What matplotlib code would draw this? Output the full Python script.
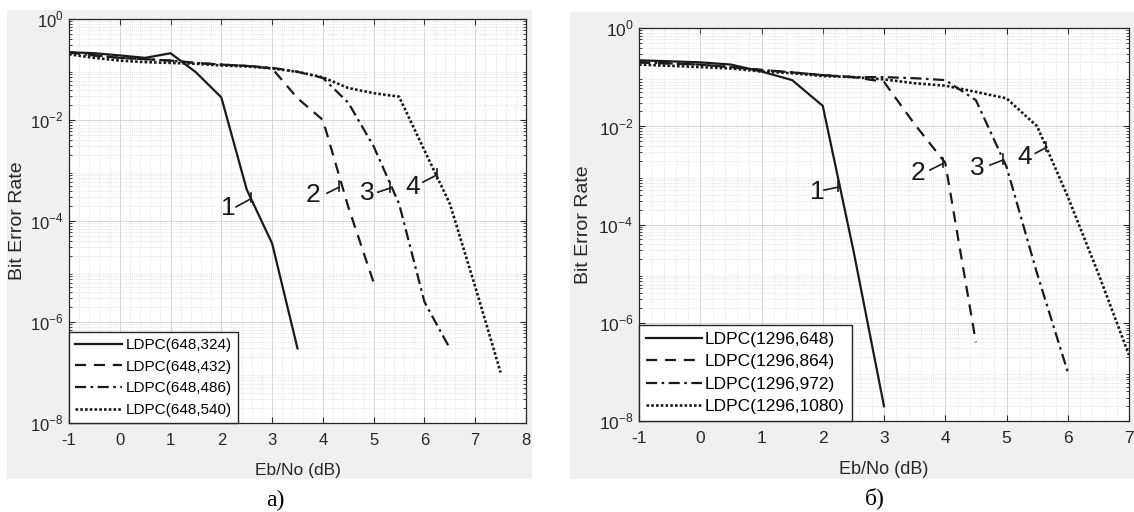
import numpy as np
import matplotlib
matplotlib.use("Agg")
import matplotlib.pyplot as plt
from matplotlib.patches import Rectangle
from matplotlib.ticker import LogLocator, MultipleLocator, NullFormatter

plt.rcParams['font.family'] = ['Liberation Sans', 'DejaVu Sans']
plt.rcParams['axes.unicode_minus'] = False
plt.rcParams['mathtext.fontset'] = 'custom'
plt.rcParams['mathtext.rm'] = 'Liberation Sans'

# ---- panel a) : LDPC(648, k)
a_x1 = [-1, -0.5, 0, 0.5, 1, 1.5, 2, 2.5, 3, 3.5]
a_y1 = [0.22, 0.21, 0.19, 0.17, 0.21, 0.088, 0.028, 4.2e-4, 3.6e-5, 3e-7]
a_x2 = [-1, -0.5, 0, 0.5, 1, 1.5, 2, 2.5, 3, 3.5, 4, 4.5, 5]
a_y2 = [0.22, 0.19, 0.17, 0.16, 0.15, 0.135, 0.125, 0.118, 0.105, 0.027, 0.01, 1.9e-4, 6e-6]
a_x3 = [-1, -0.5, 0, 0.5, 1, 1.5, 2, 2.5, 3, 3.5, 4, 4.5, 5, 5.5, 6, 6.5]
a_y3 = [0.22, 0.19, 0.17, 0.16, 0.15, 0.135, 0.125, 0.118, 0.108, 0.09, 0.068, 0.022, 3e-3, 2.2e-4, 2.5e-6, 3e-7]
a_x4 = [-1, -0.5, 0, 0.5, 1, 1.5, 2, 2.5, 3, 3.5, 4, 4.5, 5, 5.5, 6, 6.5, 7, 7.5]
a_y4 = [0.2, 0.17, 0.15, 0.14, 0.135, 0.13, 0.12, 0.115, 0.105, 0.09, 0.07, 0.043, 0.034, 0.029,
        2.5e-3, 2.2e-4, 5e-6, 1e-7]
a_labels = ["LDPC(648,324)", "LDPC(648,432)", "LDPC(648,486)", "LDPC(648,540)"]

# ---- panel б) : LDPC(1296, k)
b_x1 = [-1, -0.5, 0, 0.5, 1, 1.5, 2, 2.5, 3]
b_y1 = [0.22, 0.21, 0.2, 0.18, 0.13, 0.087, 0.026, 3e-5, 2e-8]
b_x2 = [-1, -0.5, 0, 0.5, 1, 1.5, 2, 2.5, 3, 3.5, 4, 4.5]
b_y2 = [0.2, 0.19, 0.18, 0.16, 0.14, 0.125, 0.11, 0.1, 0.08, 0.011, 1.8e-3, 4e-7]
b_x3 = [-1, -0.5, 0, 0.5, 1, 1.5, 2, 2.5, 3, 3.5, 4, 4.5, 5, 5.5, 6]
b_y3 = [0.2, 0.19, 0.18, 0.16, 0.14, 0.125, 0.11, 0.1, 0.1, 0.095, 0.087, 0.034, 1.5e-3, 1e-5, 1e-7]
b_x4 = [-1, -0.5, 0, 0.5, 1, 1.5, 2, 2.5, 3, 3.5, 4, 4.5, 5, 5.5, 6, 6.5, 7]
b_y4 = [0.18, 0.17, 0.16, 0.15, 0.13, 0.12, 0.105, 0.1, 0.09, 0.075, 0.067, 0.05, 0.037, 0.01,
        3.7e-4, 1e-5, 2.2e-7]
b_labels = ["LDPC(1296,648)", "LDPC(1296,864)", "LDPC(1296,972)", "LDPC(1296,1080)"]

y_decades = [-8, -6, -4, -2, 0]

# curve number annotations: text (x, y), leader start, leader end
a_notes = [("1", (2.13, 10**-3.74), (2.29, 10**-3.72), (2.58, 10**-3.56)),
           ("2", (3.80, 10**-3.49), (4.08, 10**-3.45), (4.32, 10**-3.33)),
           ("3", (4.87, 10**-3.45), (5.08, 10**-3.43), (5.32, 10**-3.35)),
           ("4", (5.77, 10**-3.33), (5.97, 10**-3.23), (6.24, 10**-3.09))]
b_notes = [("1", (1.91, 10**-3.34), (2.02, 10**-3.30), (2.25, 10**-3.24)),
           ("2", (3.55, 10**-2.95), (3.75, 10**-2.89), (3.96, 10**-2.76)),
           ("3", (4.53, 10**-2.85), (4.73, 10**-2.79), (4.94, 10**-2.69)),
           ("4", (5.30, 10**-2.63), (5.47, 10**-2.55), (5.64, 10**-2.44))]

ink = "#1a1a1a"
styles = [dict(ls="-", lw=1.6),
          dict(ls=(0, (5, 3.5)), lw=1.6),
          dict(ls=(0, (5, 2, 1.2, 2)), lw=1.6),
          dict(ls=(0, (1, 0.8)), lw=1.9)]

fig = plt.figure(figsize=(11.34, 5.12), dpi=100)
W, H = 1134, 512

# gray MATLAB figure backgrounds
for (x0, y0, x1, y1) in [(7, 10, 532, 479), (570, 12, 1134, 479)]:
    fig.patches.append(Rectangle((x0 / W, 1 - y1 / H), (x1 - x0) / W, (y1 - y0) / H,
                                 transform=fig.transFigure, facecolor="#f0f0f0",
                                 edgecolor="none", zorder=-5))


def make_panel(rect, xs, ys, labels, notes, xmax, caption, cap_xy,
               fs, leg_fs, ylab_x, hlen, lspace):
    x0, y0, x1, y1 = rect
    ax = fig.add_axes([x0 / W, 1 - y1 / H, (x1 - x0) / W, (y1 - y0) / H])
    ax.set_zorder(2)
    ax.set_facecolor("white")
    for x, y, lab, st in zip(xs, ys, labels, styles):
        ax.semilogy(x, y, color=ink, label=lab, **st)

    xt = list(range(-1, xmax + 1))
    ax.set_xticks(xt)
    ax.set_xticklabels([str(v) for v in xt], fontsize=fs)
    ax.set_yticks([10.0**e for e in y_decades])
    ax.set_yticklabels([r"10$^{%d}$" % e for e in y_decades], fontsize=fs)
    ax.xaxis.set_minor_locator(MultipleLocator(0.2))
    ax.yaxis.set_minor_locator(LogLocator(base=10, subs=np.arange(2, 10), numticks=100))
    ax.yaxis.set_minor_formatter(NullFormatter())
    ax.set_xlim(-1, xmax)
    ax.set_ylim(1e-8, 1)

    ax.grid(True, which="major", color="#d6d6d6", lw=0.7, ls="-")
    ax.grid(True, which="minor", color="#dcdcdc", lw=0.6, ls=(0, (1, 1.5)))
    ax.set_axisbelow(True)
    ax.tick_params(which="both", direction="in", top=True, right=True, colors="#262626")
    ax.tick_params(which="major", length=4, width=0.8)
    ax.tick_params(which="minor", length=2, width=0.6)
    ax.tick_params(axis="x", which="minor", length=0)
    ax.tick_params(axis="x", pad=7)
    ax.tick_params(axis="y", pad=4)
    for s in ax.spines.values():
        s.set_color("#262626")
        s.set_linewidth(0.9)

    ax.set_xlabel("Eb/No (dB)", fontsize=fs + 0.5, color="#262626")
    ax.set_ylabel("Bit Error Rate", fontsize=14, color="#262626")
    ax.xaxis.set_label_coords(0.5, -(470 - y1) / (y1 - y0))
    ax.yaxis.set_label_coords((ylab_x - x0) / (x1 - x0), 0.5)
    ax.xaxis.label.set_va("center")
    ax.yaxis.label.set_va("center")

    for txt, tpos, p0, p1 in notes:
        ax.text(tpos[0], tpos[1], txt, fontsize=19, color=ink, ha="center", va="center")
        ax.plot([p0[0], p1[0]], [p0[1], p1[1]], color=ink, lw=1.2)
        ax.plot([p1[0], p1[0]], [p1[1] * 10**-0.07, p1[1] * 10**0.12], color=ink, lw=1.2)

    leg = ax.legend(loc="lower left", borderaxespad=0, fontsize=leg_fs,
                    handlelength=hlen, handletextpad=0.2, labelspacing=lspace, borderpad=0.4,
                    fancybox=False, framealpha=1, edgecolor="#262626")
    leg.get_frame().set_linewidth(1.0)
    fig.text(cap_xy[0] / W, 1 - cap_xy[1] / H, caption, fontsize=17,
             family="Liberation Serif", ha="center", va="center")
    return ax


make_panel((69, 19, 526, 423), [a_x1, a_x2, a_x3, a_x4], [a_y1, a_y2, a_y3, a_y4],
           a_labels, a_notes, 8, "a)", (275, 500), 12, 11, 18, 3.1, 0.5)
make_panel((639, 28, 1129, 421), [b_x1, b_x2, b_x3, b_x4], [b_y1, b_y2, b_y3, b_y4],
           b_labels, b_notes, 7, "б)", (875, 498), 12.5, 12.5, 584, 3.2, 0.42)

fig.savefig("out.png", dpi=100, facecolor="white")
